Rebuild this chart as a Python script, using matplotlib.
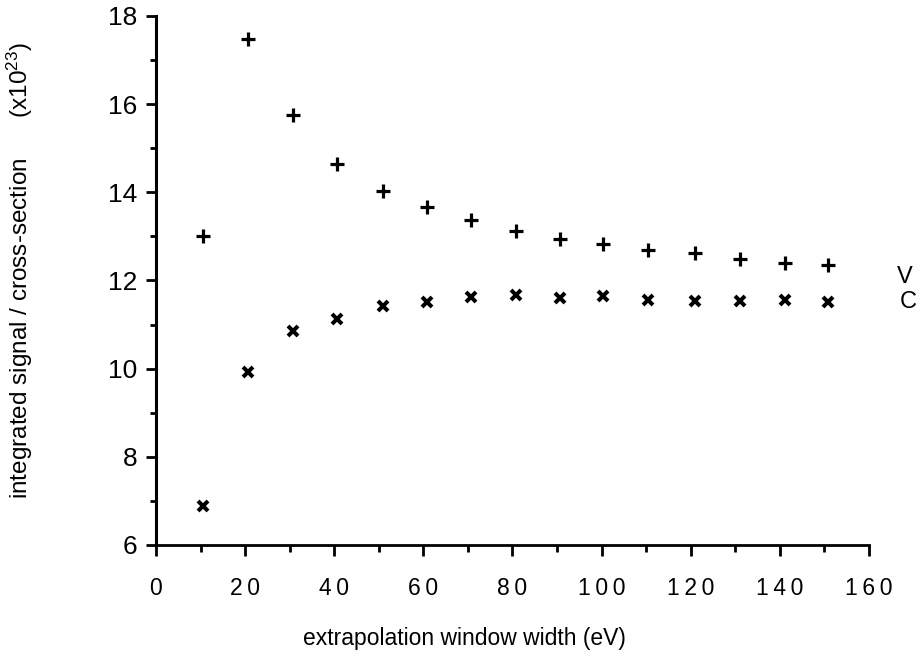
import matplotlib
matplotlib.use('Agg')
import matplotlib.pyplot as plt
from matplotlib.ticker import MultipleLocator


# extrapolation window width (eV)
window_width = [10.6, 20.6, 30.7, 40.6, 50.9, 60.8, 70.7, 80.7,
                90.6, 100.4, 110.4, 120.9, 131.0, 141.1, 150.9]

# integrated signal / cross-section (x10^23)
signal_v = [13.0, 17.48, 15.75, 14.63, 14.04, 13.67, 13.37, 13.13,
            12.93, 12.82, 12.68, 12.62, 12.48, 12.40, 12.35]
signal_c = [6.88, 9.93, 10.86, 11.12, 11.41, 11.51, 11.62, 11.67,
            11.60, 11.65, 11.56, 11.54, 11.54, 11.56, 11.50]

x_ticks = [0, 20, 40, 60, 80, 100, 120, 140, 160]
y_ticks = [6, 8, 10, 12, 14, 16, 18]


def spaced(n):
  # old plotter style: digits set apart with a thin space
  return '\u2009'.join(str(n))


def main():
  plt.rcParams['font.family'] = ['Liberation Sans', 'DejaVu Sans']
  plt.rcParams['mathtext.fontset'] = 'custom'
  plt.rcParams['mathtext.rm'] = 'Liberation Sans'
  plt.rcParams['mathtext.it'] = 'Liberation Sans'

  fig = plt.figure(figsize=(9.23, 6.63), dpi=100)
  ax = fig.add_axes([0.169, 0.178, 0.7725, 0.798])

  ax.plot(window_width, signal_v, linestyle='none', marker='+',
          color='black', markersize=10, markeredgewidth=2.3)
  ax.plot(window_width, signal_c, linestyle='none', marker='x',
          color='black', markersize=7.5, markeredgewidth=2.9)

  ax.set_xlim(0, 160)
  ax.set_ylim(6, 18)

  ax.spines['top'].set_visible(False)
  ax.spines['right'].set_visible(False)
  ax.spines['left'].set_linewidth(2.2)
  ax.spines['bottom'].set_linewidth(2.0)

  ax.set_xticks(x_ticks)
  ax.set_xticklabels([spaced(t) for t in x_ticks])
  ax.set_yticks(y_ticks)
  ax.set_yticklabels([str(t) for t in y_ticks])
  ax.xaxis.set_minor_locator(MultipleLocator(10))
  ax.yaxis.set_minor_locator(MultipleLocator(1))

  ax.tick_params(axis='x', which='major', direction='out', length=8,
                 width=2, labelsize=16.5, pad=15)
  ax.tick_params(axis='x', which='minor', direction='out', length=5, width=2)
  ax.tick_params(axis='y', which='major', direction='out', length=7.5,
                 width=2, labelsize=19, pad=6)
  ax.tick_params(axis='y', which='minor', direction='out', length=4, width=2)

  fig.text(20 / 923, 1 - 271 / 663,
           r'integrated signal / cross-section      (x10$^{23}$)',
           fontsize=17.5, rotation=90, ha='center', va='center')
  fig.text(464 / 923, 1 - 638 / 663, 'extrapolation window width (eV)',
           fontsize=16.5, ha='center', va='center')

  ax.text(168.1, 12.08, 'V', fontsize=17, ha='center', va='center',
          clip_on=False)
  ax.text(168.8, 11.5, 'C', fontsize=17, ha='center', va='center',
          clip_on=False)

  fig.savefig('out.png', dpi=100)


if __name__ == '__main__':
  main()
